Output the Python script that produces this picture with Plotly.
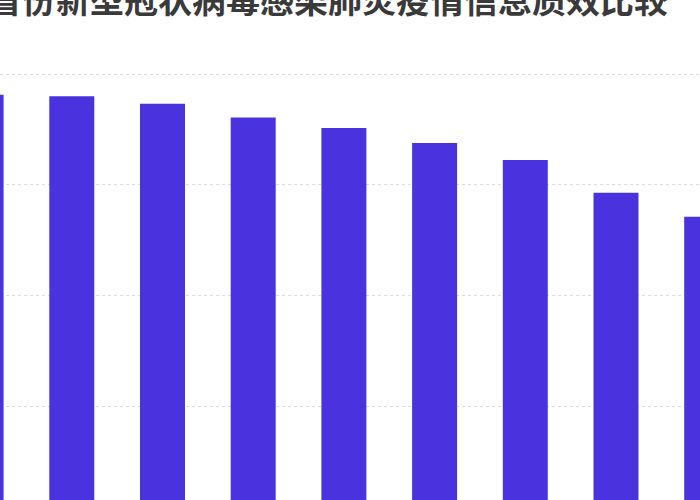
import plotly.graph_objects as go

title_text = "各省份新型冠状病毒感染肺炎疫情信息质效比较"
categories = [0, 1, 2, 3, 4, 5, 6, 7, 8]
values = [95.3, 95.0, 93.3, 90.2, 87.8, 84.4, 80.6, 73.2, 67.8]

fig = go.Figure()
fig.add_trace(go.Bar(
    x=categories, y=values,
    marker=dict(color="#4A33DF", line=dict(width=0)),
    width=0.496,
    hoverinfo="skip",
))

fig.update_layout(
    width=700, height=500,
    margin=dict(l=0, r=0, t=0, b=0),
    paper_bgcolor="white", plot_bgcolor="white",
    showlegend=False,
    xaxis=dict(range=[0.2084, 0.2084 + 700 / 90.7], showticklabels=False,
               showgrid=False, zeroline=False, showline=False, ticks=""),
    yaxis=dict(range=[(517 - 500) / 4.43, 517 / 4.43], dtick=25, tick0=0,
               showticklabels=False, showgrid=True, gridcolor="#dcdcdc",
               griddash="dot", gridwidth=1, zeroline=False, showline=False, ticks=""),
    annotations=[dict(
        text="<b>" + title_text + "</b>", xref="paper", yref="paper",
        x=311 / 700, y=1 + 2 / 500, xanchor="center", yanchor="middle",
        showarrow=False,
        font=dict(family="Noto Sans CJK SC", size=34, color="#3a3a3a"),
    )],
)

fig.write_html("out.html", config={"displayModeBar": False},
               post_script="document.body.style.margin='0px';document.body.style.overflow='hidden';")
